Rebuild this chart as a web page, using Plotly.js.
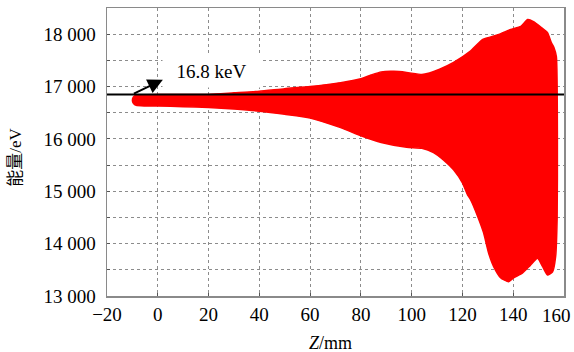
<!DOCTYPE html>
<html>
<head>
<meta charset="utf-8">
<script src="https://cdn.plot.ly/plotly-3.0.1.min.js"></script>
<style>html,body{margin:0;padding:0;background:#fff;}#chart{width:574px;height:352px;}</style>
</head>
<body>
<div id="chart"></div>
<script>
// Upper envelope of the energy spread (Z in mm, energy in eV)
const zUpper = [-10, -9.6, -8.5, -5, 0, 10, 20, 30, 40, 50, 60, 72, 80, 84, 88, 93, 98, 104, 107, 111, 116.5, 123, 128, 134, 139, 143, 145.7, 148, 151, 153.5, 155, 156, 157];
const eUpper = [16740, 16800, 16835, 16845, 16850, 16850, 16850, 16880, 16910, 16960, 17000, 17075, 17150, 17220, 17280, 17290, 17270, 17230, 17260, 17330, 17460, 17670, 17900, 17990, 18090, 18150, 18280, 18240, 18130, 18030, 17840, 17750, 17570];
// Lower envelope
const zLower = [-10, -9.6, -8.5, -5, 0, 10, 20, 30, 40, 50, 60, 72, 80, 88, 98, 104, 108.6, 112.5, 116.5, 120, 122, 123.2, 126, 128.3, 130.3, 132.3, 135, 138.2, 140, 143.7, 146.8, 149.6, 151.6, 153.5, 155.5, 156.7, 157.3, 157.4];
const eLower = [16740, 16680, 16640, 16630, 16630, 16615, 16600, 16570, 16530, 16470, 16400, 16215, 16060, 15930, 15840, 15820, 15740, 15600, 15410, 15160, 14930, 14840, 14520, 14210, 13820, 13560, 13350, 13270, 13340, 13440, 13590, 13720, 13560, 13400, 13460, 13750, 14500, 16000];
// Reference energy line (16.8 keV)
const refEnergy = 16850;
const zSpan = [-20, 160];
// X tick values and labels
const xTicks = [-20, 0, 20, 40, 60, 80, 100, 120, 140, 160];
const xLabels = ['\u221220', '0', '20', '40', '60', '80', '100', '120', '140', '160'];

const polyX = zUpper.concat(zLower.slice().reverse());
const polyY = eUpper.concat(eLower.slice().reverse());

const serif = 'Times New Roman';
const cjk = 'Times New Roman, Noto Sans CJK SC';
const gridCol = '#8c8c8c';
const lastIdx = xTicks.length - 1;
const tickSize = 19;

const traces = [
  {
    x: polyX, y: polyY, type: 'scatter', mode: 'lines',
    fill: 'toself', fillcolor: '#ff0000',
    line: {color: '#ff0000', width: 1.5, shape: 'spline', smoothing: 0.5},
    hoverinfo: 'skip', showlegend: false
  },
  {
    x: zSpan, y: [refEnergy, refEnergy], type: 'scatter', mode: 'lines',
    line: {color: '#000000', width: 2}, showlegend: false
  }
];

const layout = {
  width: 574, height: 352,
  margin: {l: 107, r: 10, t: 8, b: 56},
  paper_bgcolor: '#ffffff', plot_bgcolor: '#ffffff',
  separators: '. ',
  showlegend: false,
  font: {family: serif, size: 18, color: '#000'},
  xaxis: {
    range: zSpan, tickmode: 'array', tickvals: xTicks,
    ticktext: xLabels.map((t, i) => i === lastIdx ? '' : t),
    showgrid: true, gridcolor: gridCol, griddash: 'dot', gridwidth: 1,
    zeroline: false, showline: true, mirror: true, linecolor: '#8a8a8a', linewidth: 1.5,
    ticks: 'inside', ticklen: 3, tickcolor: '#555',
    tickfont: {family: serif, size: tickSize, color: '#000'},
    ticklabelstandoff: 1
  },
  yaxis: {
    range: [13000, 18500], dtick: 1000, tick0: 13000, tickformat: ',d',
    showgrid: true, gridcolor: gridCol, griddash: 'dot', gridwidth: 1,
    minor: {dtick: 500, showgrid: true, gridcolor: gridCol, griddash: 'dot', gridwidth: 1, ticks: 'inside', ticklen: 3, tickcolor: '#555'},
    zeroline: false, showline: true, mirror: true, linecolor: '#8a8a8a', linewidth: 1.5,
    ticks: 'inside', ticklen: 3, tickcolor: '#555',
    tickfont: {family: serif, size: tickSize, color: '#000'},
    ticklabelstandoff: 6
  },
  annotations: [
    {
      x: 21, y: 17290, xref: 'x', yref: 'y', text: '16.8 keV', showarrow: false,
      bgcolor: '#ffffff', width: 95, height: 30,
      font: {family: serif, size: 19, color: '#000'}
    },
    {
      x: 2, y: 17130, xref: 'x', yref: 'y', ax: -10, ay: 16850, axref: 'x', ayref: 'y',
      text: '', showarrow: true, arrowhead: 2, arrowsize: 1.5, arrowwidth: 2, arrowcolor: '#000'
    },
    {
      x: xTicks[lastIdx], y: 0, xref: 'x', yref: 'paper', xanchor: 'right', yanchor: 'top',
      xshift: 9, yshift: -7, text: xLabels[lastIdx], showarrow: false,
      font: {family: serif, size: tickSize, color: '#000'}
    },
    {
      x: 0.488, y: -0.163, xref: 'paper', yref: 'paper', xanchor: 'center', yanchor: 'middle',
      text: '<i>Z</i>/mm', showarrow: false,
      font: {family: serif, size: 18, color: '#000'}
    },
    {
      x: -0.199, y: 0.48, xref: 'paper', yref: 'paper', xanchor: 'center', yanchor: 'middle',
      text: '能量/eV', textangle: -90, showarrow: false,
      font: {family: cjk, size: 17, color: '#000'}
    }
  ]
};

Plotly.newPlot('chart', traces, layout, {displayModeBar: false, staticPlot: true});
</script>
</body>
</html>
